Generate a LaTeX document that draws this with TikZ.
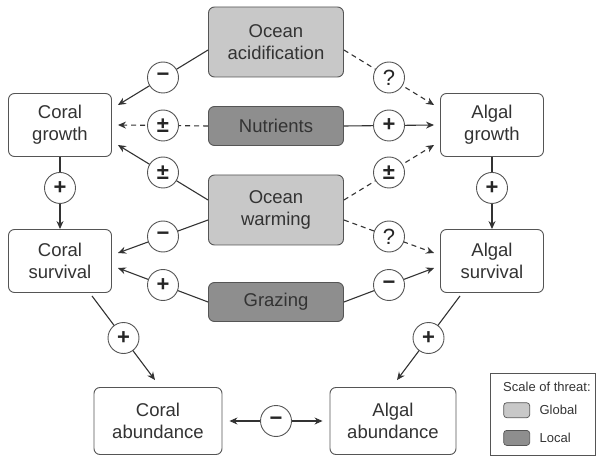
\documentclass[tikz,border=0pt]{standalone}
\usepackage{fontspec}
\setmainfont{Liberation Sans}
\usepackage{tikz}
\usetikzlibrary{positioning}
\usetikzlibrary{arrows.meta}
\usetikzlibrary{calc}
\definecolor{globalgray}{HTML}{C8C8C8}
\definecolor{localgray}{HTML}{8E8E8E}
\definecolor{edgegray}{HTML}{555555}
\definecolor{inkgray}{HTML}{333333}
\tikzset{
  threat/.style={draw=edgegray, line width=0.9pt, rounded corners=6pt, align=center,
                 minimum width=135pt, text=inkgray, font=\fontsize{18.5}{22}\selectfont},
  global/.style={threat, fill=globalgray, minimum height=70pt},
  local/.style={threat, fill=localgray, minimum height=39pt},
  effect/.style={draw=edgegray, line width=0.9pt, rounded corners=6pt, fill=white, align=center,
                 minimum width=103pt, minimum height=63pt, text=inkgray, font=\fontsize{18.5}{22}\selectfont},
  sign/.style={circle, solid, draw=edgegray, line width=0.9pt, fill=white, minimum size=31pt,
               inner sep=0pt, text=black!85, font=\fontsize{22}{22}\selectfont\bfseries},
  unknown/.style={sign, font=\fontsize{22}{22}\selectfont},
  link/.style={draw=inkgray, line width=1.1pt, -{Stealth[length=8pt,width=7pt]}},
  maybe/.style={link, dash pattern=on 5pt off 4pt},
  keytext/.style={text=inkgray, font=\fontsize{13}{15}\selectfont},
}
\begin{document}
\begin{tikzpicture}[x=1pt,y=1pt]
            \useasboundingbox (0,0) rectangle (597,-457);
            \node at ( 60,0) (ncoral)  {$\;$} ;
            \node at (276,0) (nthreat) {$\;$} ;
            \node at (492,0) (nalgal)  {$\;$} ;
            % threats
            \node at (nthreat) [yshift= -42pt,global] (nacid)  {Ocean\\acidification};
            \node at (nthreat) [yshift=-126pt,local]  (nnutri) {Nutrients};
            \node at (nthreat) [yshift=-210pt,global] (nwarm)  {Ocean\\warming};
            \node at (nthreat) [yshift=-302pt,local]  (ngraze) {Grazing};
            % coral side
            \node at (ncoral) [yshift=-125pt,effect] (ncgrowth) {Coral\\growth};
            \node at (ncoral) [yshift=-261pt,effect] (ncsurv)   {Coral\\survival};
            \node at (ncoral) [xshift= 98pt,yshift=-421pt,effect,minimum width=128pt,minimum height=67pt] (ncabund) {Coral\\abundance};
            % algal side
            \node at (nalgal) [yshift=-125pt,effect] (nagrowth) {Algal\\growth};
            \node at (nalgal) [yshift=-261pt,effect] (nasurv)   {Algal\\survival};
            \node at (nalgal) [xshift=-99pt,yshift=-421pt,effect,minimum width=126pt,minimum height=67pt] (naabund) {Algal\\abundance};
            % arrows to coral growth
            \draw[link]  ([yshift=-8pt]nacid.west)  -- node[sign]{−} ([xshift=6pt,yshift=20pt]ncgrowth.east) ;
            \draw[maybe] (nnutri.west)              -- node[sign]{±} ([xshift=6pt]ncgrowth.east) ;
            \draw[link]  ([yshift=10pt]nwarm.west)  -- node[sign]{±} ([xshift=6pt,yshift=-20pt]ncgrowth.east) ;
            % arrows to algal growth
            \draw[maybe] ([yshift=-8pt]nacid.east)  -- node[unknown]{?} ([xshift=-6pt,yshift=20pt]nagrowth.west) ;
            \draw[link]  (nnutri.east)              -- node[sign]{+} ([xshift=-6pt]nagrowth.west) ;
            \draw[maybe] ([yshift=10pt]nwarm.east)  -- node[sign]{±} ([xshift=-6pt,yshift=-20pt]nagrowth.west) ;
            % arrows to coral survival
            \draw[link]  ([yshift=-10pt]nwarm.west) -- node[sign]{−} ([xshift=6pt,yshift=8pt]ncsurv.east) ;
            \draw[link]  (ngraze.west)              -- node[sign]{+} ([xshift=6pt,yshift=-7pt]ncsurv.east) ;
            % arrows to algal survival
            \draw[maybe] ([yshift=-10pt]nwarm.east) -- node[unknown]{?} ([xshift=-6pt,yshift=8pt]nasurv.west) ;
            \draw[link]  (ngraze.east)              -- node[sign]{−} ([xshift=-6pt,yshift=-7pt]nasurv.west) ;
            % growth to survival
            \draw[link] (ncgrowth) -- node[sign,pos=0.43]{+} (ncsurv) ;
            \draw[link] (nagrowth) -- node[sign,pos=0.43]{+} (nasurv) ;
            % survival to abundance
            \draw[link] ([xshift= 32pt,yshift=-3pt]ncsurv.south) -- node[sign]{+} ([xshift=-3pt,yshift=7pt]ncabund.north) ;
            \draw[link] ([xshift=-32pt,yshift=-3pt]nasurv.south) -- node[sign]{+} ([xshift= 4pt,yshift=7pt]naabund.north) ;
            % coral vs algae
            \draw[link,{Stealth[length=8pt,width=7pt]}-{Stealth[length=8pt,width=7pt]},shorten <=7pt,shorten >=7pt]
                  (ncabund) -- node[sign]{−} (naabund) ;
            % legend
            \node at (542.5,-414) [draw=edgegray,line width=0.6pt,minimum width=105pt,minimum height=82pt] (nlegend) {};
            \node at (nlegend.north west) [xshift=10pt,yshift=-14pt,anchor=west,keytext] (nscale) {Scale of threat:};
            \node at (nlegend.north west) [xshift=27pt,yshift=-37.5pt,threat,fill=globalgray,rounded corners=3pt,
                  minimum width=26pt,minimum height=15pt,line width=0.7pt] (nkeyglobal) {};
            \node [below=12pt of nkeyglobal,threat,fill=localgray,rounded corners=3pt,
                  minimum width=26pt,minimum height=15pt,line width=0.7pt] (nkeylocal) {};
            \node [right=6pt of nkeyglobal,keytext] {Global};
            \node [right=6pt of nkeylocal,keytext]  {Local};
\end{tikzpicture}
\end{document}
